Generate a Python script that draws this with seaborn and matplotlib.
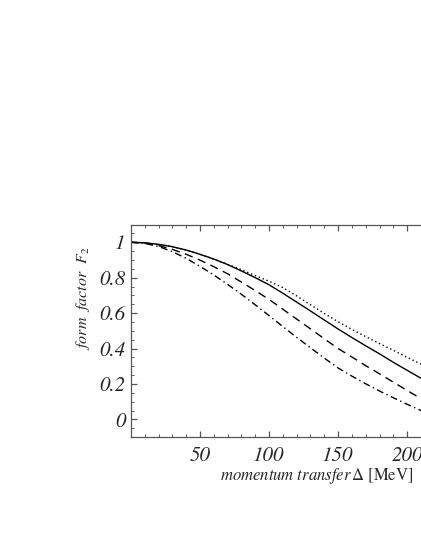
import numpy as np
import pandas as pd
import seaborn as sns
import matplotlib.pyplot as plt
from matplotlib.ticker import MultipleLocator

# momentum transfer in MeV
delta = [0, 10, 20, 30, 40, 50, 60, 70, 80, 90, 100,
         110, 120, 130, 140, 150, 160, 170, 180, 190, 200, 210]

# form factor curves
f_solid = [1.000, 0.997, 0.988, 0.975, 0.956, 0.932, 0.905, 0.874, 0.838, 0.800, 0.760,
           0.712, 0.662, 0.612, 0.561, 0.510, 0.462, 0.415, 0.370, 0.322, 0.277, 0.232]
f_dotted = [1.000, 0.997, 0.988, 0.975, 0.956, 0.932, 0.905, 0.875, 0.845, 0.812, 0.780,
            0.744, 0.697, 0.647, 0.598, 0.551, 0.508, 0.467, 0.428, 0.390, 0.350, 0.312]
f_dashed = [1.000, 0.995, 0.981, 0.960, 0.932, 0.899, 0.862, 0.822, 0.775, 0.727, 0.677,
            0.622, 0.566, 0.511, 0.455, 0.400, 0.352, 0.303, 0.257, 0.210, 0.163, 0.117]
f_dashdot = [1.000, 0.994, 0.976, 0.947, 0.909, 0.864, 0.815, 0.762, 0.706, 0.647, 0.586,
             0.524, 0.463, 0.404, 0.346, 0.290, 0.244, 0.201, 0.160, 0.122, 0.085, 0.050]

curves = {'solid': f_solid, 'dotted': f_dotted, 'dashed': f_dashed, 'dashdot': f_dashdot}
df = pd.concat([pd.DataFrame({'delta': delta, 'F2': v, 'curve': k}) for k, v in curves.items()])

sns.set_style("ticks")
plt.rcParams['font.family'] = ['Liberation Serif', 'DejaVu Serif']
plt.rcParams['mathtext.fontset'] = 'stix'

fig = plt.figure(figsize=(4.21, 5.45), dpi=100)
ax = fig.add_axes([0.311, 0.198, 0.689, 0.390])

dash_map = {'solid': '', 'dotted': (1, 2), 'dashed': (6, 4), 'dashdot': (5, 2.5, 1, 2.5)}
sns.lineplot(data=df, x='delta', y='F2', style='curve', dashes=dash_map,
             color='black', linewidth=1.0, legend=False, ax=ax)

ax.set_xlim(0, 210)
ax.set_ylim(-0.1, 1.1)
ax.xaxis.set_minor_locator(MultipleLocator(10))
ax.yaxis.set_minor_locator(MultipleLocator(0.05))
tick_font = dict(family='STIXGeneral', style='italic', size=15)
ax.set_xticks([50, 100, 150, 200])
ax.set_xticklabels(['50', '100', '150', '200'], fontdict=tick_font)
ax.set_yticks([0, 0.2, 0.4, 0.6, 0.8, 1.0])
ax.set_yticklabels(['0', '0.2', '0.4', '0.6', '0.8', '1'], fontdict=tick_font)

ax.tick_params(which='both', direction='in', top=True, right=False, color='#555555')
ax.tick_params(which='major', length=4, width=0.9)
ax.tick_params(which='minor', length=2, width=0.7)
ax.tick_params(axis='x', pad=7)
ax.tick_params(axis='y', pad=4)

for s in ['left', 'top', 'bottom']:
    ax.spines[s].set_color('#555555')
    ax.spines[s].set_linewidth(0.9)
ax.spines['right'].set_visible(False)

ax.set_xlabel(r'$\mathit{momentum\ transfer}\,\Delta\ \mathrm{[MeV]}$', fontsize=12)
ax.xaxis.set_label_coords(0.64, -0.135)
ax.set_ylabel(r'$\mathit{form\ \ factor}\ \ F_2$', fontsize=11.5)
ax.yaxis.set_label_coords(-0.135, 0.654)

fig.savefig('out.png', dpi=100)
